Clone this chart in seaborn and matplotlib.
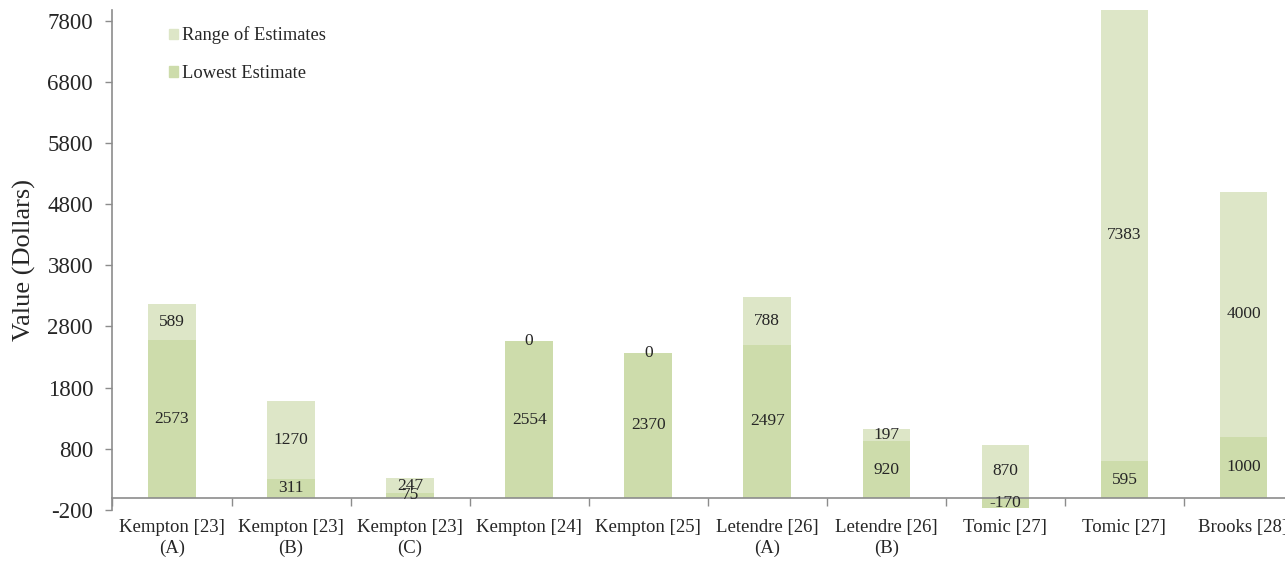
import numpy as np
import pandas as pd
import matplotlib
matplotlib.use('Agg')
import matplotlib.pyplot as plt
import seaborn as sns
from matplotlib.patches import Patch

sns.set_style('ticks')
plt.rcParams['font.family'] = ['Liberation Serif', 'DejaVu Serif']
plt.rcParams['axes.unicode_minus'] = False

# 数据
studies = ['Kempton [23]\n(A)', 'Kempton [23]\n(B)', 'Kempton [23]\n(C)', 'Kempton [24]',
           'Kempton [25]', 'Letendre [26]\n(A)', 'Letendre [26]\n(B)', 'Tomic [27]',
           'Tomic [27]', 'Brooks [28]']
lowest = [2573, 311, 75, 2554, 2370, 2497, 920, -170, 595, 1000]
ranges = [589, 1270, 247, 0, 0, 788, 197, 870, 7383, 4000]

light = '#dde6c7'
dark = '#cddcab'
grey = '#8c8c8c'

df = pd.DataFrame({'pos': np.arange(len(studies)), 'low': lowest, 'rng': ranges})
df['base'] = df['low'].clip(lower=0)
df['top'] = df['base'] + df['rng']

fig = plt.figure(figsize=(12.85, 5.61), dpi=100)
ax = fig.add_axes([112.5 / 1285, 51 / 561, (1303 - 112.5) / 1285, 500.5 / 561])

# 先画区间（从0到顶），再画最低估计覆盖下半部分
sns.barplot(data=df, x='pos', y='top', color=light, saturation=1, width=0.4, ax=ax,
            edgecolor='none', linewidth=0)
sns.barplot(data=df, x='pos', y='low', color=dark, saturation=1, width=0.4, ax=ax,
            edgecolor='none', linewidth=0)

for i, r in df.iterrows():
    ax.text(r['pos'], r['base'] + r['rng'] / 2, f"{r['rng']:.0f}", ha='center', va='center', fontsize=12.5)
    ax.text(r['pos'], r['low'] / 2, f"{r['low']:.0f}", ha='center', va='center', fontsize=12.5)

ax.set_xlim(-0.5, 9.5)
ax.set_ylim(-200, 7980)
ax.set_yticks(np.arange(-200, 7801, 1000))
ax.tick_params(axis='y', labelsize=16.5, length=5, color=grey, width=1, pad=9)

ax.spines['top'].set_visible(False)
ax.spines['right'].set_visible(False)
ax.spines['bottom'].set_position(('data', 0))
for s in ['left', 'bottom']:
    ax.spines[s].set_color(grey)
    ax.spines[s].set_linewidth(1.2)

ax.set_xticks(df['pos'])
ax.set_xticklabels(studies, fontsize=13.5, linespacing=1.3)
ax.set_xticks(np.arange(-0.5, 10, 1), minor=True)
ax.tick_params(axis='x', which='major', length=0, pad=15)
ax.tick_params(axis='x', which='minor', length=6, color=grey, width=1)

ax.set_xlabel('')
ax.set_ylabel('Value (Dollars)', fontsize=19, labelpad=8)

handles = [Patch(color=light, label='Range of Estimates'), Patch(color=dark, label='Lowest Estimate')]
fig.legend(handles=handles, loc='upper left', bbox_to_anchor=(152 / 1285, 1 - 10 / 561),
           frameon=False, fontsize=13.3, handlelength=0.5, handleheight=0.5,
           handletextpad=0.25, labelspacing=1.1)

fig.savefig('out.png', dpi=100)
